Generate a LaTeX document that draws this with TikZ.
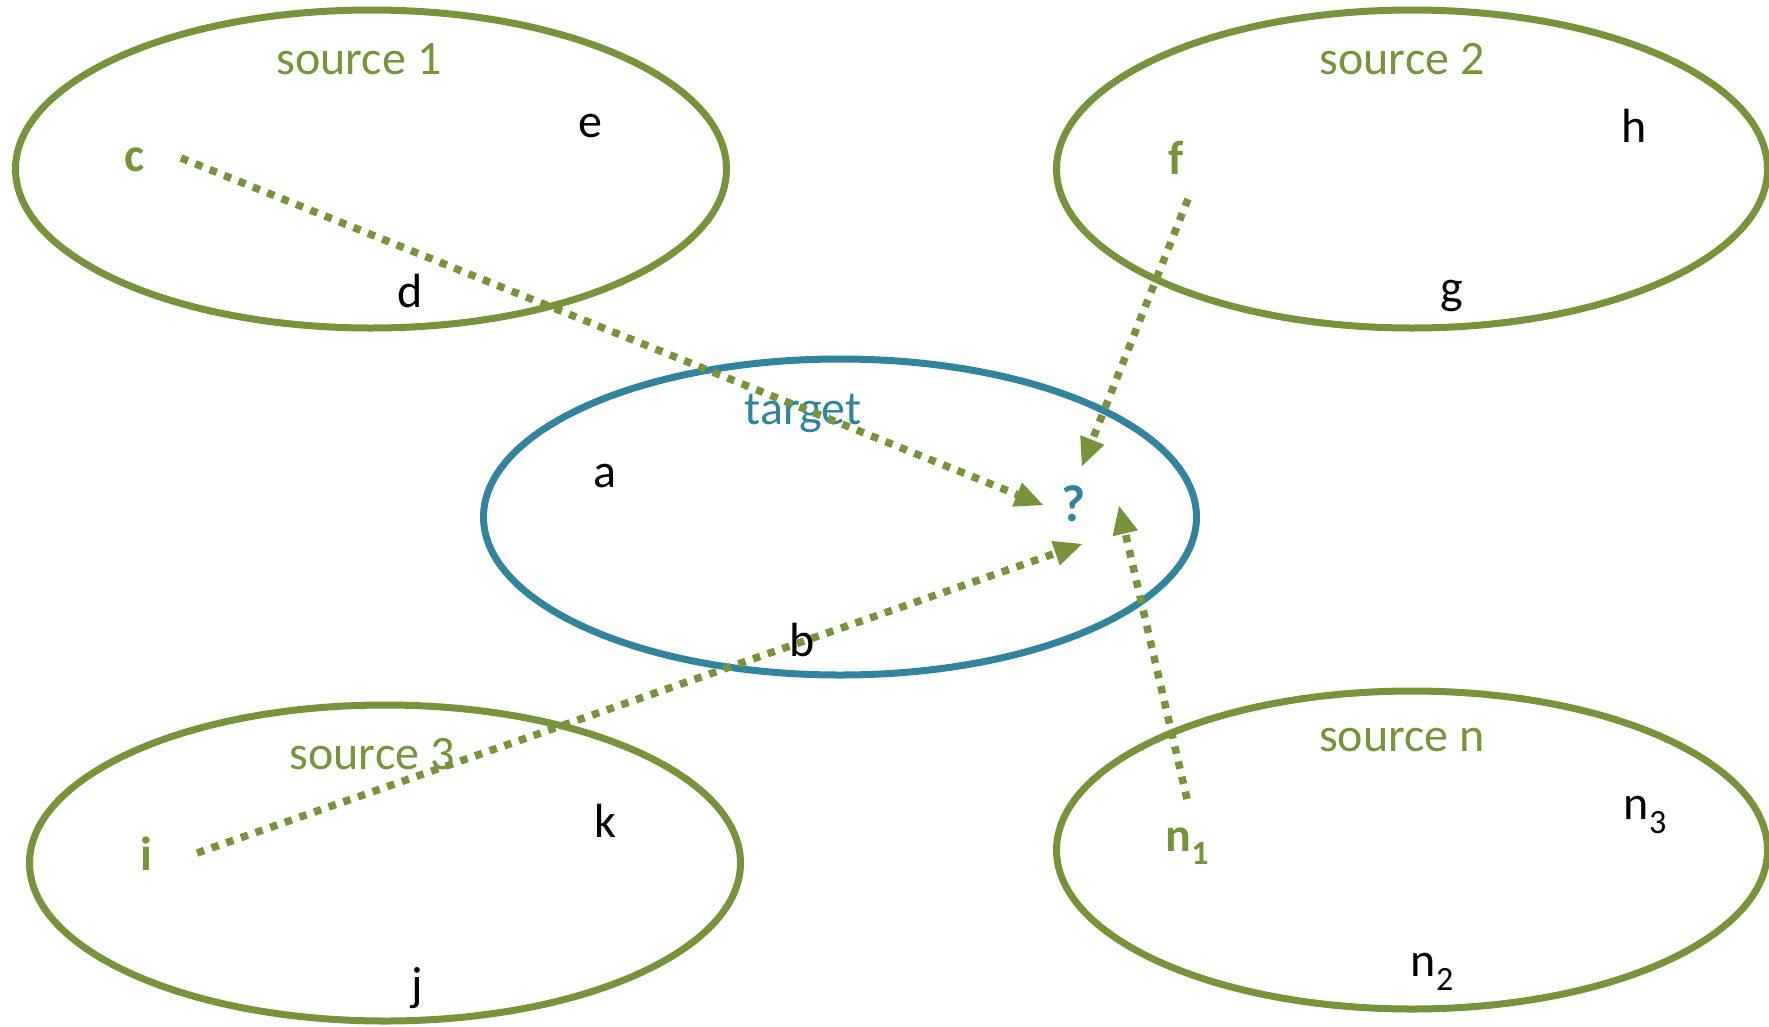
\documentclass[tikz,border=0pt]{standalone}
\usepackage{fontspec}
\setmainfont{Carlito}
\usetikzlibrary{shapes.geometric,arrows.meta}
\definecolor{srcgreen}{HTML}{77933C}
\definecolor{tgtblue}{HTML}{31849B}
\newcommand\subidx[1]{\raisebox{-0.28em}{\fontsize{34}{36}\selectfont #1}}
\begin{document}
\begin{tikzpicture}[x=1pt,y=-1pt,
  setoval/.style={ellipse,draw,line width=7pt,inner sep=0pt,minimum width=711pt,minimum height=318pt},
  srcoval/.style={setoval,draw=srcgreen},
  tgtoval/.style={setoval,draw=tgtblue},
  lbl/.style={font=\fontsize{48}{56}\selectfont,inner sep=0pt,anchor=center},
  srctitle/.style={lbl,text=srcgreen},
  tgttitle/.style={lbl,text=tgtblue},
  elem/.style={lbl,text=black},
  keyelem/.style={lbl,text=srcgreen,font=\fontsize{48}{56}\selectfont\bfseries},
  qelem/.style={lbl,text=tgtblue,font=\fontsize{52}{58}\selectfont\bfseries},
  mapping/.style={draw=srcgreen,line width=7.5pt,dash pattern=on 7.5pt off 8pt,
    -{Triangle[length=28pt,width=26pt,fill=srcgreen,line width=0pt]}}
]
\useasboundingbox (0,0) rectangle (1769,1026);
% ovals
\node[srcoval] (S1) at (371,169) {};
\node[srcoval] (S2) at (1412,169) {};
\node[tgtoval,minimum width=713pt,minimum height=316pt] (T) at (840,517) {};
\node[srcoval,minimum height=316pt] (S3) at (385,863) {};
\node[srcoval] (Sn) at (1412,850) {};
% source 1
\node[srctitle] (t1) at (359,59) {source 1};
\node[elem] (e) at (590,126) {e};
\node[keyelem] (c) at (135,160) {c};
\node[elem] (d) at (410,291) {d};
% source 2
\node[srctitle] (t2) at (1402,59) {source 2};
\node[elem] (h) at (1634,126) {h};
\node[keyelem] (f) at (1176,158) {f};
\node[elem] (g) at (1452,296) {g};
% target
\node[tgttitle] (tt) at (803,413) {target};
\node[elem] (a) at (605,476) {a};
\node[qelem] (q) at (1074,504) {?};
\node[elem] (b) at (802,640) {b};
% source 3
\node[srctitle] (t3) at (372,754) {source 3};
\node[elem] (k) at (605,821) {k};
\node[keyelem] (i) at (146,854) {i};
\node[elem] (j) at (417,988) {j};
% source n
\node[srctitle] (tn) at (1402,740) {source n};
\node[elem] (n3) at (1645,815) {n\subidx{3}};
\node[keyelem] (n1) at (1187,846) {n\subidx{1}};
\node[elem] (n2) at (1432,972) {n\subidx{2}};
% connector end points
\coordinate (cs) at (181,158);
\coordinate (ce) at (1043,505);
\coordinate (fs) at (1188,199);
\coordinate (fe) at (1082,466);
\coordinate (is) at (197,853);
\coordinate (ie) at (1082,544);
\coordinate (ns) at (1187,799);
\coordinate (ne) at (1119,506);
% mappings
\draw[mapping] (cs) -- (ce);
\draw[mapping] (fs) -- (fe);
\draw[mapping] (is) -- (ie);
\draw[mapping] (ns) -- (ne);
\end{tikzpicture}
\end{document}
